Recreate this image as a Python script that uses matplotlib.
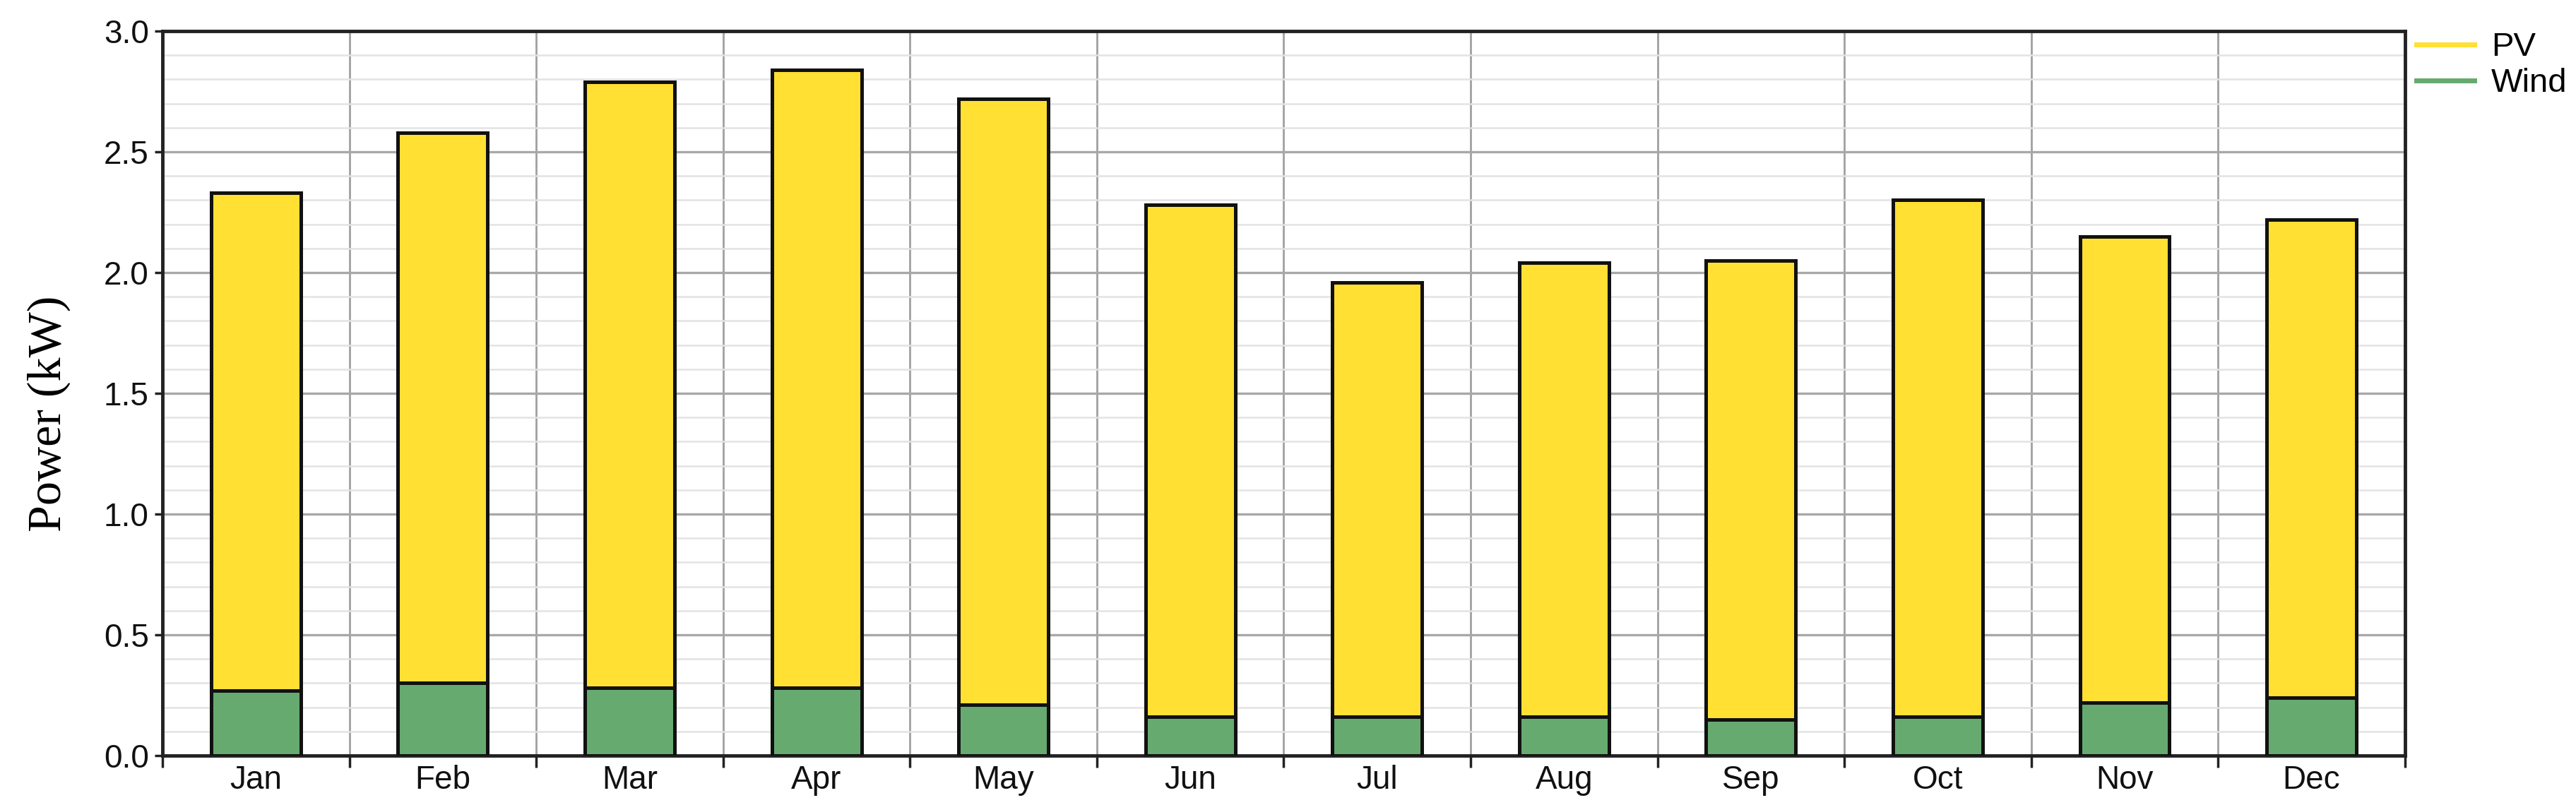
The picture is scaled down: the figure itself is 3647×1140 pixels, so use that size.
import matplotlib
matplotlib.use("Agg")
import matplotlib.pyplot as plt
from matplotlib.lines import Line2D
from matplotlib.ticker import MultipleLocator, FixedLocator, NullFormatter
import numpy as np

months = ["Jan", "Feb", "Mar", "Apr", "May", "Jun",
          "Jul", "Aug", "Sep", "Oct", "Nov", "Dec"]
total_kw = [2.33, 2.58, 2.79, 2.84, 2.72, 2.28, 1.96, 2.04, 2.05, 2.30, 2.15, 2.22]
wind_kw = [0.27, 0.30, 0.28, 0.28, 0.21, 0.16, 0.16, 0.16, 0.15, 0.16, 0.22, 0.24]
pv_kw = [t - w for t, w in zip(total_kw, wind_kw)]

PV_COLOR = "#FFE033"
WIND_COLOR = "#66AA70"
TICK_FONT = ["Liberation Sans Narrow", "Liberation Sans", "DejaVu Sans"]

fig = plt.figure(figsize=(36.47, 11.40), dpi=100)
ax = fig.add_axes([0.0631, 0.0614, 0.8705, 0.9000])

x = np.arange(len(months))
ax.bar(x, wind_kw, width=0.48, color=WIND_COLOR, edgecolor="#111111",
       linewidth=3.6, zorder=3)
ax.bar(x, pv_kw, width=0.48, bottom=wind_kw, color=PV_COLOR,
       edgecolor="#111111", linewidth=3.6, zorder=3)

ax.set_xlim(-0.5, len(months) - 0.5)
ax.set_ylim(0, 3.0)

# y grid: major every 0.5, faint minor every 0.1
ax.yaxis.set_major_locator(MultipleLocator(0.5))
ax.yaxis.set_minor_locator(MultipleLocator(0.1))
ax.grid(which="major", axis="y", color="#A8A8A8", linewidth=2.4, zorder=0)
ax.grid(which="minor", axis="y", color="#E3E3E3", linewidth=1.8, zorder=0)

# x: ticks + vertical grid at month boundaries, labels at centres
ax.xaxis.set_major_locator(FixedLocator(np.arange(-0.5, len(months), 1.0)))
ax.xaxis.set_major_formatter(NullFormatter())
ax.xaxis.set_minor_locator(FixedLocator(x))
ax.set_xticklabels(months, minor=True)
ax.grid(which="major", axis="x", color="#A0A0A0", linewidth=2.0, zorder=0)
ax.set_axisbelow(True)

ax.tick_params(axis="x", which="major", length=12, width=2.5, color="#222222")
ax.tick_params(axis="x", which="minor", length=0, pad=9)
ax.tick_params(axis="y", which="major", length=8, width=2.5, color="#222222", pad=6)
ax.tick_params(axis="y", which="minor", length=0)

ax.yaxis.set_major_formatter(matplotlib.ticker.FormatStrFormatter("%.1f"))
for lab in ax.get_xticklabels(minor=True) + ax.get_yticklabels():
    lab.set_family(TICK_FONT)
    lab.set_fontsize(33)
    lab.set_color("#111111")

for sp in ax.spines.values():
    sp.set_linewidth(3.5)
    sp.set_color("#222222")

ax.set_ylabel("Power (kW)", family=["Liberation Serif", "DejaVu Serif"],
              fontsize=49, color="black")
ax.yaxis.set_label_coords(-0.041, 0.472)

handles = [Line2D([0], [0], color=PV_COLOR, lw=5),
           Line2D([0], [0], color=WIND_COLOR, lw=5)]
ax.legend(handles, ["PV", "Wind"], loc="upper left",
          bbox_to_anchor=(1.005, 0.999), frameon=False, borderpad=0,
          borderaxespad=0, handlelength=1.75, handletextpad=0.5,
          labelspacing=0.15, prop={"family": TICK_FONT, "size": 34})

fig.savefig("out.png", dpi=100)
plt.close(fig)
